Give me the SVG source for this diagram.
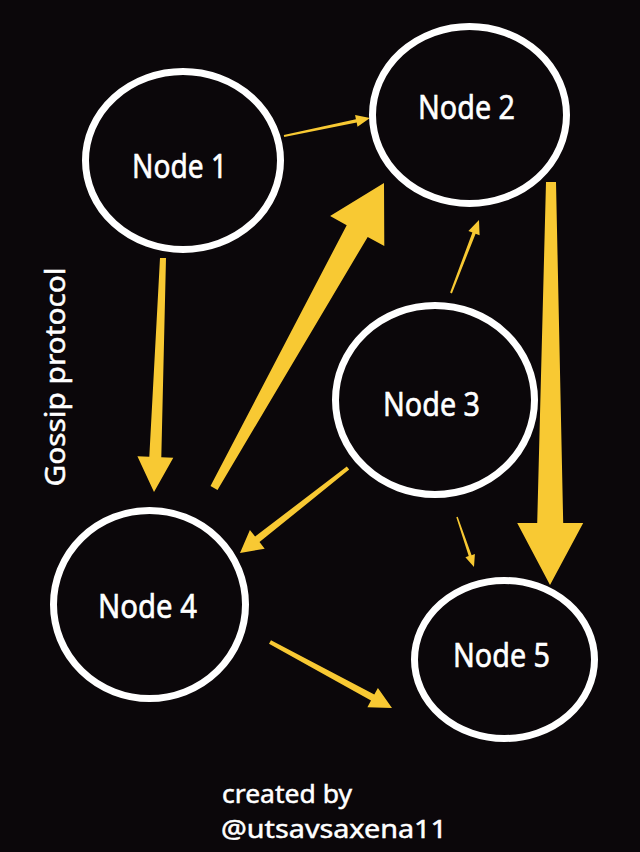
<svg xmlns="http://www.w3.org/2000/svg" width="640" height="852" viewBox="0 0 640 852">
<style>
.bg{fill:#0b070a}
.node ellipse{fill:#0b070a;stroke:#ffffff;stroke-width:7}
.node text{fill:#ffffff;stroke:#ffffff;stroke-width:0.6;font-family:"Noto Sans","DejaVu Sans",sans-serif;font-size:33px;text-anchor:middle}
.arrow{fill:#f8c933;stroke:none}
.label{fill:#ffffff;stroke:#ffffff;stroke-width:0.5;font-family:"Noto Sans","DejaVu Sans",sans-serif}
</style>
<rect class="bg" x="0" y="0" width="640" height="852"/>
<g id="connectors">
<polygon class="arrow" points="284.2,137.0 356.7,122.6 357.5,126.7 370,118 355.1,115.0 355.9,119.2 283.8,135.0"/>
<polygon class="arrow" points="160.0,257.9 149.3,456.8 137.4,456.3 154,492 173.3,457.7 161.3,457.3 166.0,258.1"/>
<polygon class="arrow" points="217.5,490.0 367.7,236.9 384.3,246.1 384,183 330.1,216.0 346.7,225.2 210.5,486.1"/>
<polygon class="arrow" points="546,182 537.2,523 517.2,523 550,585 583.2,523 563.2,523 556,182"/>
<polygon class="arrow" points="451.9,293.4 475.6,233.7 479.6,235.2 479,220 468.4,230.9 472.4,232.4 450.1,292.6"/>
<polygon class="arrow" points="346.8,466.4 255.1,536.6 249.9,530.0 240,553 264.7,548.8 259.5,542.1 349.2,469.6"/>
<polygon class="arrow" points="456.3,517.2 468.7,556.1 465.4,557.3 474,567 474.9,554.0 471.6,555.2 457.7,516.8"/>
<polygon class="arrow" points="269.0,643.8 371.0,700.6 367.4,707.2 392,708 377.9,687.9 374.3,694.5 271.0,640.2"/>
</g>
<g id="node1" class="node">
<ellipse cx="183" cy="160.5" rx="97.5" ry="89"/>
<text x="179.5" y="178" textLength="95" lengthAdjust="spacingAndGlyphs">Node 1</text>
</g>
<g id="node2" class="node">
<ellipse cx="469.5" cy="115" rx="97" ry="88.5"/>
<text x="466.5" y="119" textLength="97" lengthAdjust="spacingAndGlyphs">Node 2</text>
</g>
<g id="node3" class="node">
<ellipse cx="435" cy="400" rx="99.5" ry="94.5"/>
<text x="431.5" y="416" textLength="97" lengthAdjust="spacingAndGlyphs">Node 3</text>
</g>
<g id="node4" class="node">
<ellipse cx="149.5" cy="604.5" rx="96" ry="94"/>
<text x="147.5" y="618" textLength="99" lengthAdjust="spacingAndGlyphs">Node 4</text>
</g>
<g id="node5" class="node">
<ellipse cx="504.5" cy="659.5" rx="90" ry="79"/>
<text x="501.5" y="667" textLength="97" lengthAdjust="spacingAndGlyphs">Node 5</text>
</g>
<g id="title">
<text class="label" transform="translate(65,377) rotate(-90)" text-anchor="middle" font-size="28" textLength="219" lengthAdjust="spacingAndGlyphs">Gossip protocol</text>
</g>
<g id="credit">
<text class="label" x="222" y="803" font-size="26" textLength="130" lengthAdjust="spacingAndGlyphs">created by</text>
<text class="label" x="221" y="838" font-size="26" textLength="226" lengthAdjust="spacingAndGlyphs">@utsavsaxena11</text>
</g>
</svg>
